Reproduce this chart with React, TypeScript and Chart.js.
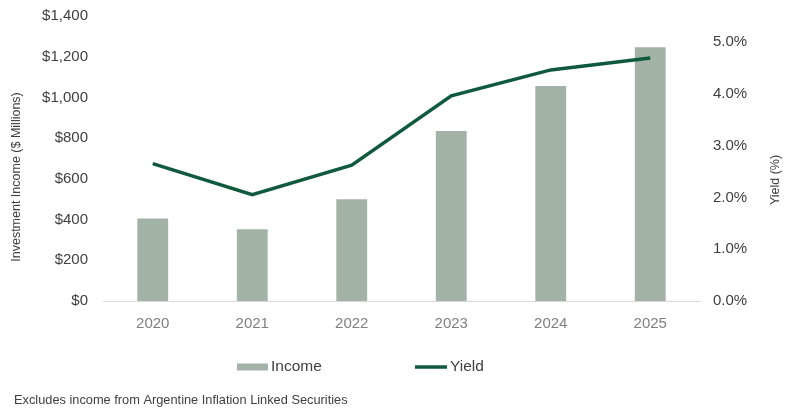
import React, { useEffect, useRef } from "react";
import { Chart, registerables } from "chart.js";

Chart.register(...registerables);

const categories = ["2020", "2021", "2022", "2023", "2024", "2025"];
const incomeValues = [405, 353, 500, 835, 1056, 1247];
const yieldValues = [2.65, 2.05, 2.62, 3.96, 4.46, 4.69];
const incomeTicks = [0, 200, 400, 600, 800, 1000, 1200, 1400];
const yieldTicks = [0, 1, 2, 3, 4, 5];

const FONT = "'Liberation Sans', Arial, sans-serif";
const BAR_COLOR = "#a3b2a7";
const LINE_COLOR = "#0f5a3c";
const TEXT = "#404040";

const extrasPlugin = {
  id: "extras",
  afterDraw(chart: any) {
    const ctx = chart.ctx as CanvasRenderingContext2D;
    ctx.save();
    // axis titles
    ctx.fillStyle = TEXT;
    ctx.font = `12.5px ${FONT}`;
    ctx.textAlign = "center";
    ctx.textBaseline = "middle";
    ctx.save();
    ctx.translate(17, 177);
    ctx.rotate(-Math.PI / 2);
    ctx.fillText("Investment Income ($ Millions)", 0, 0);
    ctx.restore();
    ctx.save();
    ctx.translate(776, 180);
    ctx.rotate(-Math.PI / 2);
    ctx.fillText("Yield (%)", 0, 0);
    ctx.restore();

    // legend
    ctx.font = `15.5px ${FONT}`;
    ctx.textAlign = "left";
    ctx.fillStyle = BAR_COLOR;
    ctx.fillRect(237, 363.5, 31, 7);
    ctx.fillStyle = TEXT;
    ctx.fillText("Income", 271, 367);
    ctx.strokeStyle = LINE_COLOR;
    ctx.lineWidth = 3.5;
    ctx.beginPath();
    ctx.moveTo(415, 367);
    ctx.lineTo(447, 367);
    ctx.stroke();
    ctx.fillText("Yield", 450, 367);

    // footnote
    ctx.font = `12.8px ${FONT}`;
    ctx.fillStyle = TEXT;
    ctx.fillText("Excludes income from Argentine Inflation Linked Securities", 14, 400);
    ctx.restore();
  },
};

export default function App() {
  const ref = useRef<HTMLCanvasElement | null>(null);
  useEffect(() => {
    if (!ref.current) return;
    const chart = new Chart(ref.current, {
      type: "bar",
      data: {
        labels: categories,
        datasets: [
          {
            type: "line",
            label: "Yield",
            data: yieldValues,
            yAxisID: "y1",
            borderColor: LINE_COLOR,
            backgroundColor: LINE_COLOR,
            borderWidth: 3.5,
            pointRadius: 0,
            tension: 0,
            order: 0,
          } as any,
          {
            type: "bar",
            label: "Income",
            data: incomeValues,
            yAxisID: "y",
            backgroundColor: BAR_COLOR,
            borderWidth: 0,
            categoryPercentage: 1,
            barPercentage: 0.31,
            order: 1,
          },
        ],
      },
      options: {
        responsive: false,
        animation: false,
        layout: { padding: { top: 16, left: 0, right: 0, bottom: 0 } },
        plugins: {
          legend: { display: false },
          tooltip: { enabled: false },
        },
        scales: {
          x: {
            grid: { display: false, drawTicks: false },
            border: { display: true, color: "#d9d9d9", width: 1 },
            ticks: {
              color: "#7f7f7f",
              font: { family: FONT, size: 15 },
              padding: 14,
              maxRotation: 0,
            },
            afterFit: (s: any) => {
              s.height = 108;
              s.paddingLeft = 0;
              s.paddingRight = 0;
            },
          },
          y: {
            position: "left",
            min: 0,
            max: 1400,
            grid: { display: false, drawTicks: false },
            border: { display: false },
            afterBuildTicks: (s: any) => {
              s.ticks = incomeTicks.map((v) => ({ value: v }));
            },
            ticks: {
              color: TEXT,
              font: { family: FONT, size: 15 },
              padding: 15,
              callback: (v: any) => "$" + Number(v).toLocaleString("en-US"),
            },
            afterFit: (s: any) => {
              s.width = 103;
              s.paddingTop = 0;
              s.paddingBottom = 0;
            },
          },
          y1: {
            position: "right",
            min: 0,
            max: 5.5,
            grid: { display: false, drawTicks: false },
            border: { display: false },
            afterBuildTicks: (s: any) => {
              s.ticks = yieldTicks.map((v) => ({ value: v }));
            },
            ticks: {
              color: TEXT,
              font: { family: FONT, size: 15 },
              padding: 13,
              callback: (v: any) => Number(v).toFixed(1) + "%",
            },
            afterFit: (s: any) => {
              s.width = 88;
              s.paddingTop = 0;
              s.paddingBottom = 0;
            },
          },
        },
      },
      plugins: [extrasPlugin],
    });
    return () => chart.destroy();
  }, []);
  return (
    <div style={{ position: "fixed", left: 0, top: 0, width: 788, height: 409, background: "#fff" }}>
      <canvas ref={ref} width={788} height={409} style={{ display: "block" }} />
    </div>
  );
}
